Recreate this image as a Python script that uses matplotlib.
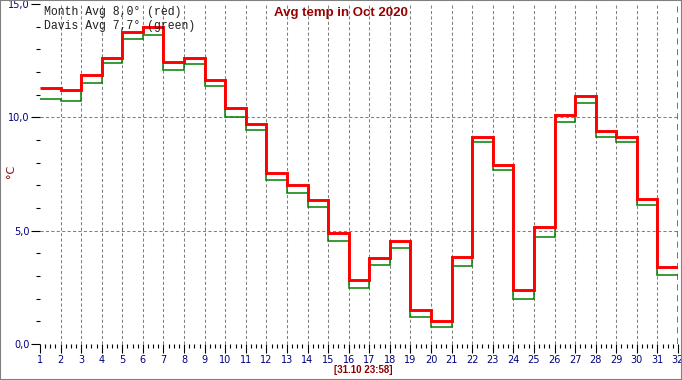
import matplotlib.pyplot as plt
from matplotlib.patches import Rectangle
from matplotlib.ticker import MultipleLocator, FixedLocator, FuncFormatter

# daily averages for October 2020
days = list(range(1, 33))  # step edges, day 1 .. 32
month_avg = [11.29, 11.20, 11.87, 12.60, 13.76, 13.97, 12.44, 12.60, 11.65, 10.41,
             9.70, 7.56, 7.01, 6.35, 4.90, 2.82, 3.79, 4.53, 1.50, 1.03,
             3.85, 9.15, 7.90, 2.38, 5.18, 10.10, 10.94, 9.40, 9.15, 6.41, 3.40]
davis_avg = [10.79, 10.72, 11.51, 12.38, 13.44, 13.65, 12.07, 12.35, 11.37, 10.03,
             9.44, 7.23, 6.66, 6.03, 4.54, 2.46, 3.48, 4.23, 1.18, 0.74,
             3.43, 8.89, 7.68, 1.97, 4.71, 9.78, 10.62, 9.12, 8.89, 6.13, 3.04]
y_major = [0, 5, 10, 15]
month_label = "Month Avg 8,0° (red)"
davis_label = "Davis Avg 7,7° (green)"
title = "Avg temp in Oct 2020"
stamp = "[31.10 23:58]"

W, H = 682, 380
fig = plt.figure(figsize=(W / 100, H / 100), dpi=100)
ax = fig.add_axes([40 / W, 1 - 344 / H, 638 / W, 340 / H])

navy = "#000080"
maroon = "#8b0000"

# grid
ax.vlines(days[1:-1], 0, 15, colors="#808080", linestyles=(0, (3, 2.2)), linewidth=0.75, zorder=1)
ax.hlines([5, 10], 1, 32, colors="#808080", linestyles=(0, (3, 2.2)), linewidth=0.75, zorder=1)
ax.vlines([days[-1]], 0, 15, colors="#008000", linestyles=(0, (4, 3)), linewidth=1.1, zorder=1)

ax.stairs(davis_avg, days, baseline=None, color="#008000", linewidth=1.1, zorder=3)
ax.stairs(month_avg, days, baseline=None, color="#ff0000", linewidth=2.1, zorder=4)

ax.set_xlim(days[0], days[-1])
ax.set_ylim(0, 15)
for s in ax.spines.values():
    s.set_visible(False)

ax.xaxis.set_major_locator(FixedLocator(days))
ax.xaxis.set_minor_locator(MultipleLocator(0.25))
ax.yaxis.set_major_locator(FixedLocator(y_major))
ax.yaxis.set_minor_locator(MultipleLocator(1))
ax.yaxis.set_major_formatter(FuncFormatter(lambda v, p: f"{v:.1f}".replace(".", ",")))

ax.tick_params(axis="x", which="major", length=6.5, width=0.8, pad=1.5,
               labelsize=7, labelcolor=navy, color="black")
ax.tick_params(axis="x", which="minor", length=3, width=0.8, color="black")
ax.tick_params(axis="y", which="major", length=6.5, width=0.8, pad=1,
               labelsize=7, labelcolor=navy, color="black")
ax.tick_params(axis="y", which="minor", length=3, width=0.8, color="black")

# unit label sits just left of the tick labels
fig.text(11 / W, 1 - 171 / H, "°C", color=maroon, fontsize=8, rotation=90,
         ha="center", va="center")

fig.text(44 / W, 1 - 12 / H, month_label, family="Liberation Mono", fontsize=8.3,
         va="center", ha="left", color="#202020")
fig.text(44 / W, 1 - 26 / H, davis_label, family="Liberation Mono", fontsize=8.3,
         va="center", ha="left", color="#202020")
fig.text(341 / W, 1 - 13 / H, title, family="Liberation Sans", fontsize=9.5,
         fontweight="bold", color="#990000", ha="center", va="center")
fig.text(363 / W, 1 - 370 / H, stamp, family="Liberation Sans", fontsize=7,
         fontweight="bold", color=maroon, ha="center", va="center")

# window-like frame
fig.patches.append(Rectangle((0, 0), 1, 1, transform=fig.transFigure, fill=False,
                             edgecolor="#808080", linewidth=1.5))

fig.savefig("out.png", dpi=100)
